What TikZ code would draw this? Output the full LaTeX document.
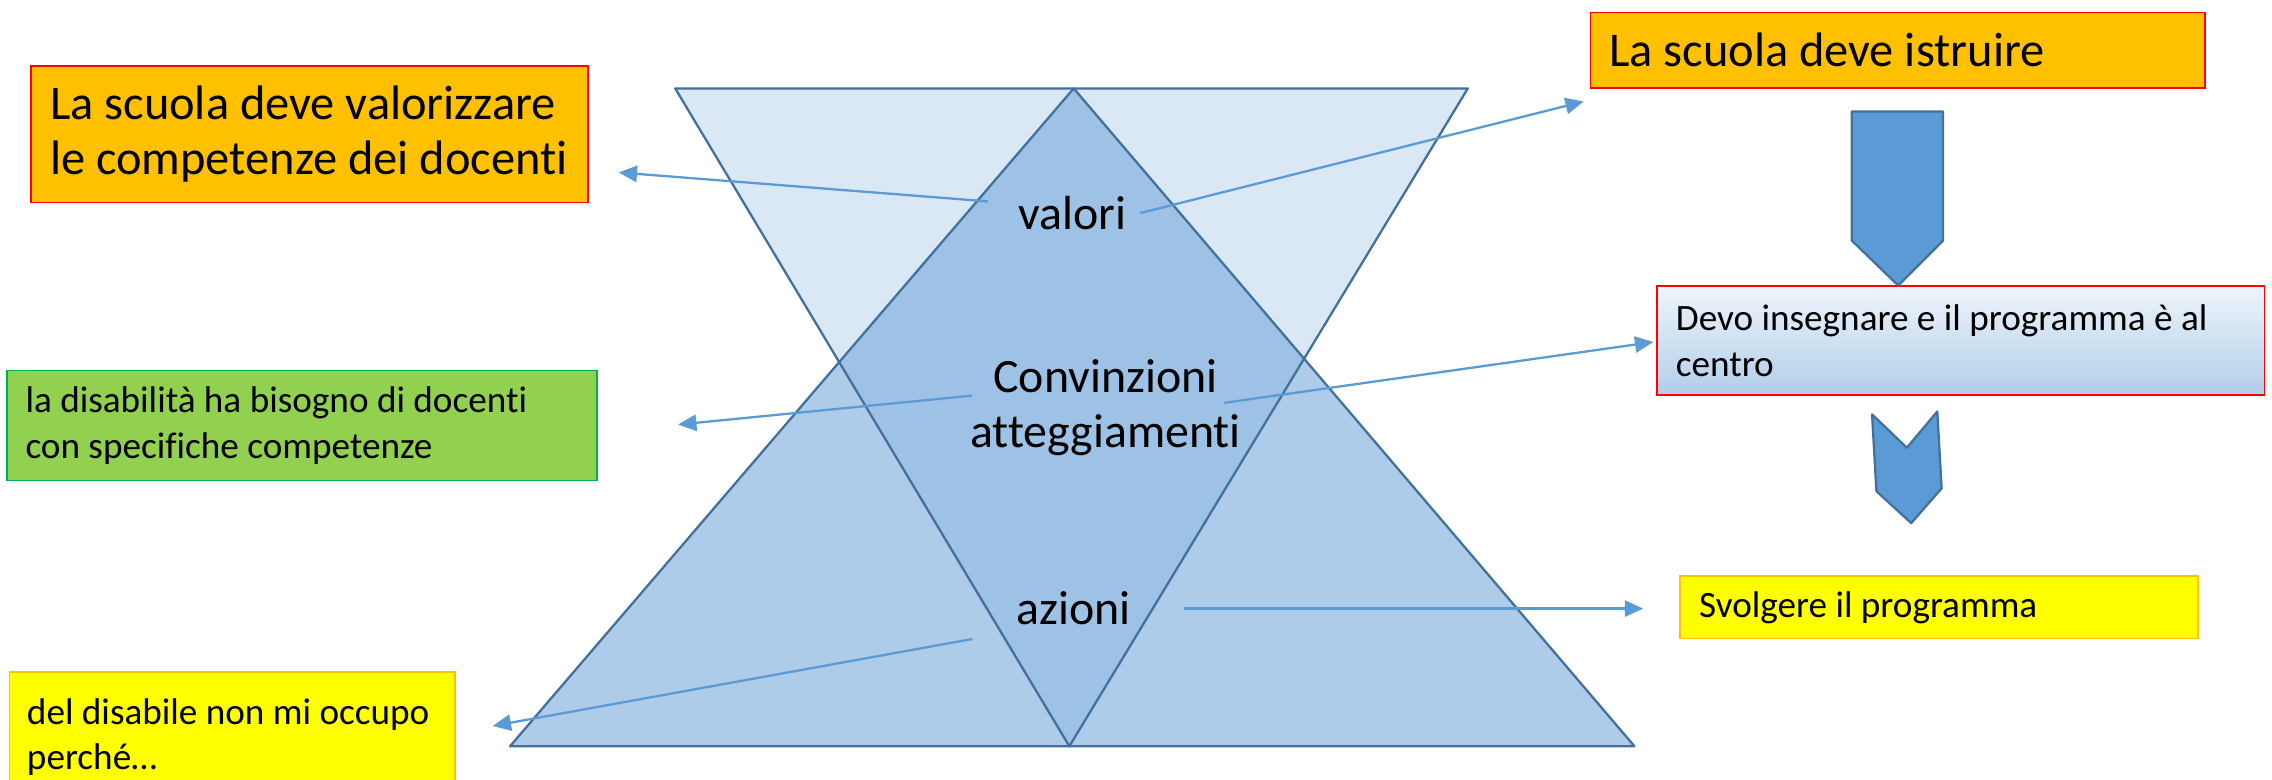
\documentclass[tikz,border=0pt]{standalone}
\usepackage{fontspec}
\setmainfont{Carlito}[Ligatures=NoCommon]
\usetikzlibrary{arrows.meta}

\definecolor{boxorange}{HTML}{FFC000}
\definecolor{boxred}{HTML}{FF0000}
\definecolor{boxgreen}{HTML}{92D050}
\definecolor{boxgreenline}{HTML}{00B050}
\definecolor{boxyellow}{HTML}{FFFF00}
\definecolor{trilight}{HTML}{DAE8F5}
\definecolor{trimid}{HTML}{AECCEA}
\definecolor{tridark}{HTML}{9DC2E5}
\definecolor{triedge}{HTML}{41719C}
\definecolor{connblue}{HTML}{5B9BD5}
\definecolor{shadetop}{HTML}{EEF4FB}
\definecolor{shadebot}{HTML}{B2CEEA}

\tikzset{
  box/.style={anchor=north west, align=flush left, inner xsep=0.13cm, inner ysep=0pt, line width=0.35pt},
  bigtxt/.style={font=\fontsize{9.5}{10.8}\selectfont},
  smalltxt/.style={font=\fontsize{7.3}{9}\selectfont},
  label/.style={inner sep=0pt, align=center, font=\fontsize{9.4}{10.8}\selectfont},
  conn/.style={draw=connblue, line width=0.45pt, -{Triangle[length=3.6pt,width=3.2pt]}},
  downarrow/.style={fill=connblue, draw=triedge, line width=0.45pt, line join=round}
}

\begin{document}
\begin{tikzpicture}[x=0.01cm,y=-0.01cm]
\useasboundingbox (0,0) rectangle (1568,538);

% triangles
\fill[trilight] (466,61) -- (1013,61) -- (738,515) -- cycle;
\fill[trimid] (741,61) -- (352,515) -- (1128,515) -- cycle;
\begin{scope}
\clip (466,61) -- (1013,61) -- (738,515) -- cycle;
\fill[tridark] (741,61) -- (352,515) -- (1128,515) -- cycle;
\end{scope}
\draw[triedge, line width=0.45pt, line join=round] (466,61) -- (1013,61) -- (738,515) -- cycle;
\draw[triedge, line width=0.45pt, line join=round] (741,61) -- (352,515) -- (1128,515) -- cycle;

\node[label] (valori) at (740,147) {valori};
\node[label] (convinzioni) at (763,281) {Convinzioni\\atteggiamenti};
\node[label] (azioni) at (741,420) {azioni};

% boxes on the left
\node[box, bigtxt, fill=boxorange, draw=boxred, text width=3.58cm, minimum height=0.94cm] (valorizzare) at (21,45)
  {La scuola deve valorizzare\\le competenze dei docenti};
\node[box, smalltxt, fill=boxgreen, draw=boxgreenline, text width=3.81cm, minimum height=0.76cm] (disabilita) at (4,255)
  {la disabilità ha bisogno di docenti\\con specifiche competenze};
\node[box, smalltxt, fill=boxyellow, draw=boxorange, inner xsep=0.12cm, text width=2.83cm, minimum height=0.9cm] (disabile) at (6,463)
  {del disabile non mi occupo\\perché…};

% boxes on the right
\node[box, bigtxt, fill=boxorange, draw=boxred, text width=3.98cm, minimum height=0.52cm] (istruire) at (1097,8)
  {La scuola deve istruire};
\node[box, smalltxt, top color=shadetop, bottom color=shadebot, draw=boxred, text width=3.93cm, minimum height=0.75cm] (insegnare) at (1143,197)
  {Devo insegnare e il programma è al\\centro};
\node[box, smalltxt, fill=boxyellow, draw=boxorange, text width=3.31cm, minimum height=0.43cm] (programma) at (1159,397)
  {Svolgere il programma};

\draw[downarrow] (1278,77) -- (1341,77) -- (1341,166) -- (1310,197) -- (1278,166) -- cycle;
\draw[downarrow] (1292,286) -- (1316,309) -- (1337,284) -- (1340,337) -- (1319,361) -- (1295,339) -- cycle;

% connectors
\coordinate (valL) at (682,139);    \coordinate (valLtip) at (427,119);
\coordinate (valR) at (787,147);    \coordinate (valRtip) at (1093,70);
\coordinate (conL) at (671,273);    \coordinate (conLtip) at (468,293);
\coordinate (conR) at (845,278);    \coordinate (conRtip) at (1141,236);
\coordinate (aziL) at (671,441);    \coordinate (aziLtip) at (340,501);
\coordinate (aziR) at (817,420);    \coordinate (aziRtip) at (1134,420);
\foreach \a/\b in {valL/valLtip, valR/valRtip, conL/conLtip, conR/conRtip, aziL/aziLtip, aziR/aziRtip}
  \draw[conn] (\a) -- (\b);
\end{tikzpicture}
\end{document}
